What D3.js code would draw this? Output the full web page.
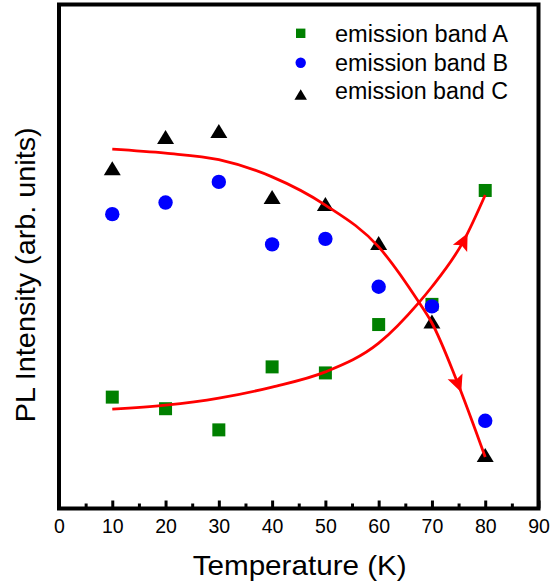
<!DOCTYPE html>
<html>
<head>
<meta charset="utf-8">
<script src="https://cdn.jsdelivr.net/npm/d3@7"></script>
<style>
  html, body { margin: 0; padding: 0; background: #fff; }
  svg { display: block; font-family: "Liberation Sans", Arial, Helvetica, sans-serif; }
</style>
</head>
<body>
<svg id="chart" width="551" height="585"></svg>
<script>
// Measured PL intensities (arb. units) of the three emission bands
const temps = [10, 20, 30, 40, 50, 60, 70, 80];
const bandA = [2.21, 1.98, 1.56, 2.81, 2.69, 3.65, 4.05, 6.31];
const bandB = [5.84, 6.07, 6.48, 5.24, 5.35, 4.40, 4.01, 1.74];
const bandC = [6.75, 7.37, 7.49, 6.18, 6.04, 5.27, 3.71, 1.06];

// Guide curves (band A rising, band C quenching)
const fitTempsA = [10, 20, 30, 40, 50, 60, 67.5, 70, 76, 80];
const fitA      = [1.97, 2.05, 2.19, 2.41, 2.71, 3.28, 4.08, 4.40, 5.32, 6.22];
const fitTempsC = [10, 20, 30, 40, 50, 60, 67.5, 70, 74.6, 80];
const fitC      = [7.13, 7.05, 6.92, 6.58, 6.02, 5.19, 4.10, 3.68, 2.55, 1.02];
const arrowTemps = [76.7, 75.5];

const majorTicks = [0, 10, 20, 30, 40, 50, 60, 70, 80, 90];
const minorTicks = [5, 15, 25, 35, 45, 55, 65, 75, 85];
const legendLabels = ["emission band A", "emission band B", "emission band C"];

const svg = d3.select("#chart");
const frame = { left: 59, right: 538.5, top: 4.5, bottom: 508.5 };

const x = d3.scaleLinear().domain([0, 90]).range([frame.left, frame.right]);
const y = d3.scaleLinear().domain([0, 10]).range([frame.bottom, frame.top]);

// Bottom axis: inward major and minor ticks
const axisMajor = d3.axisBottom(x).tickValues(majorTicks).tickSize(-8).tickPadding(11).tickFormat(d3.format("d"));
const gx = svg.append("g").attr("transform", `translate(0,${frame.bottom})`).call(axisMajor);
gx.select(".domain").remove();
gx.selectAll(".tick line").attr("stroke", "#000").attr("stroke-width", 3);
gx.selectAll(".tick text").attr("font-size", 19.5).attr("fill", "#000")
  .attr("font-family", "'Liberation Sans', Arial, sans-serif");

const axisMinor = d3.axisBottom(x).tickValues(minorTicks).tickSize(-5).tickFormat("");
const gm = svg.append("g").attr("transform", `translate(0,${frame.bottom})`).call(axisMinor);
gm.select(".domain").remove();
gm.selectAll(".tick line").attr("stroke", "#000").attr("stroke-width", 3);

// Frame
svg.append("rect")
  .attr("x", frame.left).attr("y", frame.top)
  .attr("width", frame.right - frame.left).attr("height", frame.bottom - frame.top)
  .attr("fill", "none").attr("stroke", "#000").attr("stroke-width", 4);

// Axis titles
svg.append("text")
  .attr("x", 299.7).attr("y", 575)
  .attr("text-anchor", "middle")
  .attr("font-size", 28)
  .attr("textLength", 214).attr("lengthAdjust", "spacingAndGlyphs")
  .text("Temperature (K)");

svg.append("text")
  .attr("transform", "translate(35,274.8) rotate(-90)")
  .attr("text-anchor", "middle")
  .attr("font-size", 28)
  .attr("textLength", 295).attr("lengthAdjust", "spacingAndGlyphs")
  .text("PL Intensity (arb. units)");

// Marker shapes
function trianglePath(w, h) {
  return `M0,${-h / 2}L${w / 2},${h / 2}L${-w / 2},${h / 2}Z`;
}

const plot = svg.append("g");

plot.selectAll(".ptA").data(temps.map((t, i) => [t, bandA[i]]))
  .join("rect").attr("class", "ptA")
  .attr("x", d => x(d[0]) - 6.5).attr("y", d => y(d[1]) - 6.5)
  .attr("width", 13).attr("height", 13)
  .attr("fill", "#008000");

plot.selectAll(".ptB").data(temps.map((t, i) => [t, bandB[i]]))
  .join("circle").attr("class", "ptB")
  .attr("cx", d => x(d[0])).attr("cy", d => y(d[1]))
  .attr("r", 7.2)
  .attr("fill", "#0000ff");

plot.selectAll(".ptC").data(temps.map((t, i) => [t, bandC[i]]))
  .join("path").attr("class", "ptC")
  .attr("transform", d => `translate(${x(d[0])},${y(d[1])})`)
  .attr("d", trianglePath(17, 14))
  .attr("fill", "#000");

// Guide curves with direction arrows
const line = d3.line().x(d => x(d[0])).y(d => y(d[1])).curve(d3.curveMonotoneX);
const curves = [
  fitTempsA.map((t, i) => [t, fitA[i]]),
  fitTempsC.map((t, i) => [t, fitC[i]])
];

curves.forEach((pts, k) => {
  const path = plot.append("path")
    .attr("d", line(pts))
    .attr("fill", "none")
    .attr("stroke", "#ff0000")
    .attr("stroke-width", 2.8);

  const node = path.node();
  const total = node.getTotalLength();
  const targetX = x(arrowTemps[k]);
  let lo = 0, hi = total;
  for (let n = 0; n < 40; n++) {
    const mid = (lo + hi) / 2;
    if (node.getPointAtLength(mid).x < targetX) lo = mid; else hi = mid;
  }
  const l = (lo + hi) / 2;
  const tip = node.getPointAtLength(l);
  const a = node.getPointAtLength(Math.max(0, l - 3));
  const b = node.getPointAtLength(Math.min(total, l + 3));
  let dx = b.x - a.x, dy = b.y - a.y;
  const len = Math.hypot(dx, dy);
  dx /= len; dy /= len;
  const L = 17, W = 8;
  const bx = tip.x - dx * L, by = tip.y - dy * L;
  const head = [
    [tip.x, tip.y],
    [bx - dy * W, by + dx * W],
    [tip.x - dx * L * 0.8, tip.y - dy * L * 0.8],
    [bx + dy * W, by - dx * W]
  ];
  plot.append("path")
    .attr("d", "M" + head.map(p => p.join(",")).join("L") + "Z")
    .attr("fill", "#ff0000");
});

// Legend
const legend = svg.append("g");
const lx = 300.7, tx = 335;
const rowsY = [42, 71, 99];
legend.append("rect").attr("x", lx - 4.7).attr("y", 33.3 - 4.7).attr("width", 9.4).attr("height", 9.4).attr("fill", "#008000");
legend.append("circle").attr("cx", lx).attr("cy", 62.7).attr("r", 5.2).attr("fill", "#0000ff");
legend.append("path").attr("transform", `translate(${lx},94.5)`).attr("d", trianglePath(12.5, 10.5)).attr("fill", "#000");
legend.selectAll(".lg").data(legendLabels).join("text").attr("class", "lg")
  .attr("x", tx).attr("y", (d, i) => rowsY[i])
  .attr("font-size", 23)
  .attr("textLength", 173).attr("lengthAdjust", "spacingAndGlyphs")
  .text(d => d);
</script>
</body>
</html>
